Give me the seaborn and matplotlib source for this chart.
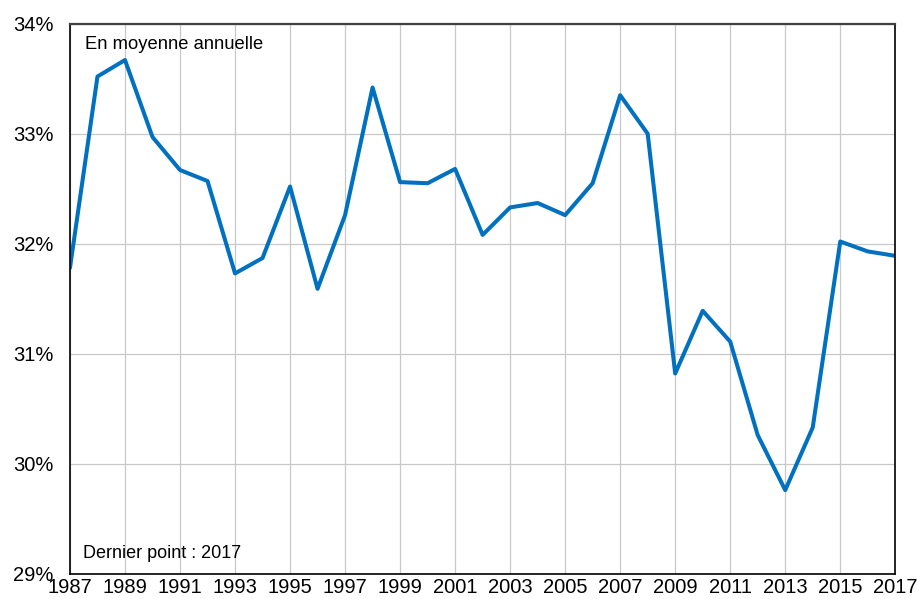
import numpy as np
import pandas as pd
import matplotlib
matplotlib.use("Agg")
import matplotlib.pyplot as plt
import seaborn as sns

# Annual average values (%)
years = list(range(1987, 2018))
values = [31.78, 33.52, 33.67, 32.97, 32.67, 32.57, 31.73, 31.87, 32.52, 31.59,
          32.26, 33.42, 32.56, 32.55, 32.68, 32.08, 32.33, 32.37, 32.26, 32.55,
          33.35, 33.00, 30.82, 31.39, 31.11, 30.26, 29.76, 30.33, 32.02, 31.93,
          31.89]
x_ticks = list(range(1987, 2018, 2))
y_ticks = [29, 30, 31, 32, 33, 34]
y_labels = [f"{v}%" for v in y_ticks]

df = pd.DataFrame({'annee': years, 'taux': values})

sns.set_style("white")
plt.rcParams['font.family'] = ['Liberation Sans', 'DejaVu Sans']
plt.rcParams['text.color'] = 'black'

fig = plt.figure(figsize=(9.17, 5.99), dpi=100)
ax = fig.add_axes([0.0763, 0.0422, 0.9, 0.9182])

sns.lineplot(data=df, x='annee', y='taux', ax=ax, color='#0070C0', linewidth=2.9)

ax.set_xlim(1987, 2017)
ax.set_ylim(29, 34)
ax.set_xticks(x_ticks)
ax.set_yticks(y_ticks)
ax.set_yticklabels(y_labels)
ax.set_xlabel('')
ax.set_ylabel('')
ax.tick_params(axis='both', length=0, labelsize=14.5, colors='black')
ax.tick_params(axis='y', pad=12)
ax.tick_params(axis='x', pad=3)

ax.grid(True, color='#C8C8C8', linewidth=0.9)
ax.set_axisbelow(True)

for side in ['left', 'right', 'bottom']:
    ax.spines[side].set_color('black')
    ax.spines[side].set_linewidth(1.2)
ax.spines['top'].set_color('#404040')
ax.spines['top'].set_linewidth(1.6)

ax.text(0.018, 0.962, 'En moyenne annuelle', transform=ax.transAxes,
        fontsize=13.2, va='center', ha='left', color='black')
ax.text(0.016, 0.037, 'Dernier point : 2017', transform=ax.transAxes,
        fontsize=13, va='center', ha='left', color='black')

fig.savefig('out.png', dpi=100)
